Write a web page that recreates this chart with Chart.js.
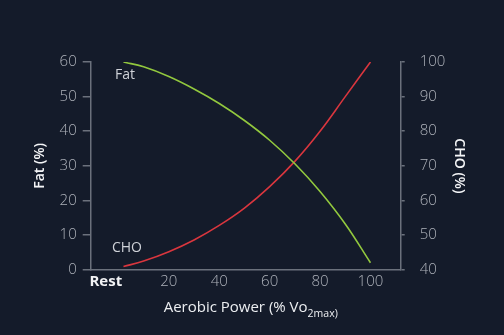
<!DOCTYPE html>
<html>
<head>
<meta charset="utf-8">
<script src="https://cdn.jsdelivr.net/npm/chart.js@4"></script>
<style>
  html, body { margin: 0; padding: 0; background: #141b2a; }
  #wrap { width: 504px; height: 335px; }
</style>
</head>
<body>
<div id="wrap"><canvas id="chart"></canvas></div>
<script>
// ---- data ----
const powerPts = [2, 10, 20, 30, 40, 50, 60, 70, 80, 90, 100];   // % VO2max
const fatPct   = [60, 58.6, 55.8, 52.2, 48.0, 43.1, 37.4, 30.6, 22.6, 13.2, 2.0];
const choPct   = [40.9, 42.5, 45.2, 48.6, 52.8, 57.8, 64.0, 71.3, 80.0, 90.0, 100];
const xTickVals = [-5, 20, 40, 60, 80, 100];   // -5 is the "Rest" slot
const xTickText = ["Rest", "20", "40", "60", "80", "100"];

const axisColor = "#6b717c";
const tickColor = "#aeb2ba";
const FONT = "'Open Sans', 'Noto Sans', sans-serif";

// curve name labels, placed in data units
const curveLabels = [
  { text: "Fat", x: 2.6, y: 56.3 },
  { text: "CHO", x: 3.4, y: 6.3 }
];

const labelPlugin = {
  id: "labels",
  afterDraw(c) {
    const ctx = c.ctx, xs = c.scales.x, ys = c.scales.y, area = c.chartArea;
    ctx.save();
    ctx.fillStyle = "#cfd2d8";
    ctx.font = "400 14px " + FONT;
    ctx.textAlign = "center";
    ctx.textBaseline = "middle";
    curveLabels.forEach(l => ctx.fillText(l.text, xs.getPixelForValue(l.x), ys.getPixelForValue(l.y)));

    // x-axis title with subscript
    const main = "Aerobic Power (% Vo", sub = "2max)";
    ctx.font = "500 15px " + FONT;
    const w1 = ctx.measureText(main).width;
    ctx.font = "500 10.5px " + FONT;
    const w2 = ctx.measureText(sub).width;
    const cx = (area.left + area.right) / 2 + 5;
    const y = area.bottom + 38;
    let x0 = cx - (w1 + w2) / 2;
    ctx.textAlign = "left";
    ctx.fillStyle = "#eceef1";
    ctx.font = "500 15px " + FONT;
    ctx.fillText(main, x0, y);
    ctx.font = "500 10.5px " + FONT;
    ctx.fillText(sub, x0 + w1, y + 6);
    ctx.restore();
  }
};

new Chart(document.getElementById("chart"), {
  type: "line",
  data: {
    datasets: [
      {
        label: "Fat",
        data: powerPts.map((p, i) => ({ x: p, y: fatPct[i] })),
        yAxisID: "y",
        borderColor: "#92c83e",
        borderWidth: 1.6,
        pointRadius: 0,
        tension: 0.4
      },
      {
        label: "CHO",
        data: powerPts.map((p, i) => ({ x: p, y: choPct[i] })),
        yAxisID: "y1",
        borderColor: "#d9363e",
        borderWidth: 1.6,
        pointRadius: 0,
        tension: 0.4
      }
    ]
  },
  options: {
    responsive: true,
    maintainAspectRatio: false,
    animation: false,
    layout: { padding: { top: 62 } },
    plugins: { legend: { display: false }, tooltip: { enabled: false } },
    scales: {
      x: {
        type: "linear",
        min: -11,
        max: 112,
        afterBuildTicks: s => { s.ticks = xTickVals.map(v => ({ value: v })); },
        afterFit: s => { s.height = 65.3; },
        grid: { display: false, drawTicks: false },
        border: { display: true, color: axisColor, width: 1.5 },
        ticks: {
          padding: 3,
          maxRotation: 0,
          autoSkip: false,
          color: ctx => ctx.tick && ctx.tick.value === -5 ? "#f2f3f5" : tickColor,
          font: ctx => ctx.tick && ctx.tick.value === -5
            ? { family: FONT, size: 15, weight: "700" }
            : { family: FONT, size: 15, weight: "300" },
          callback: v => xTickText[xTickVals.indexOf(v)]
        }
      },
      y: {
        position: "left",
        min: 0,
        max: 60,
        afterFit: s => { s.width = 90.7; },
        grid: { drawOnChartArea: false, drawTicks: true, tickLength: 8, color: axisColor, lineWidth: 1.5 },
        border: { display: true, color: axisColor, width: 1.5 },
        ticks: { stepSize: 10, padding: 6, color: tickColor, font: { family: FONT, size: 15, weight: "300" } },
        title: {
          display: true,
          text: "Fat (%)",
          color: "#f4f5f7",
          padding: { top: 32, bottom: 0 },
          font: { family: FONT, size: 14, weight: "600" }
        }
      },
      y1: {
        position: "right",
        min: 40,
        max: 100,
        afterFit: s => { s.width = 103.3; },
        grid: { drawOnChartArea: false, drawTicks: true, tickLength: 4, color: axisColor, lineWidth: 1.5 },
        border: { display: true, color: axisColor, width: 1.5 },
        ticks: { stepSize: 10, padding: 15, color: tickColor, font: { family: FONT, size: 15, weight: "300" } },
        title: {
          display: true,
          text: "CHO (%)",
          color: "#f4f5f7",
          padding: { top: 37, bottom: 0 },
          font: { family: FONT, size: 14, weight: "600" }
        }
      }
    }
  },
  plugins: [labelPlugin]
});
</script>
</body>
</html>
